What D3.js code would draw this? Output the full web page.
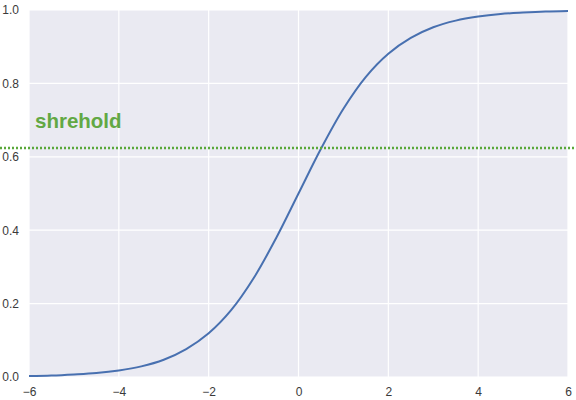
<!DOCTYPE html>
<html>
<head>
<meta charset="utf-8">
<script src="https://cdn.jsdelivr.net/npm/d3@7"></script>
<style>
  body { margin: 0; background: #fff; }
  svg { display: block; font-family: "Liberation Sans", Arial, sans-serif; }
</style>
</head>
<body>
<svg width="576" height="400"></svg>
<script>
"use strict";

// values
const xValues = [-6, -5.5, -5, -4.5, -4, -3.5, -3, -2.5, -2, -1.5, -1, -0.5, 0,
                 0.5, 1, 1.5, 2, 2.5, 3, 3.5, 4, 4.5, 5, 5.5, 6];
const yValues = [0.0025, 0.004, 0.007, 0.011, 0.018, 0.029, 0.047, 0.076, 0.119, 0.182, 0.269, 0.378, 0.5,
                 0.622, 0.731, 0.818, 0.881, 0.924, 0.953, 0.971, 0.982, 0.989, 0.993, 0.996, 0.9975];
const xTicks = [-6, -4, -2, 0, 2, 4, 6];
const yTicks = [0, 0.2, 0.4, 0.6, 0.8, 1.0];
const threshold = 0.624;
const thresholdLabel = "shrehold";

const plotLeft = 29, plotRight = 568, plotTop = 10, plotBottom = 377;

const svg = d3.select("svg");
const xScale = d3.scaleLinear().domain([-6, 6]).range([plotLeft, plotRight]);
const yScale = d3.scaleLinear().domain([0, 1]).range([plotBottom, plotTop]);

svg.append("rect")
    .attr("x", plotLeft).attr("y", plotTop)
    .attr("width", plotRight - plotLeft).attr("height", plotBottom - plotTop)
    .attr("fill", "#eaeaf2");

// grid
svg.append("g").selectAll("line")
    .data(xTicks)
    .join("line")
    .attr("x1", d => xScale(d)).attr("x2", d => xScale(d))
    .attr("y1", plotTop).attr("y2", plotBottom)
    .attr("stroke", "#fff").attr("stroke-width", 1.2);
svg.append("g").selectAll("line")
    .data(yTicks)
    .join("line")
    .attr("y1", d => yScale(d)).attr("y2", d => yScale(d))
    .attr("x1", plotLeft).attr("x2", plotRight)
    .attr("stroke", "#fff").attr("stroke-width", 1.2);

// axes (labels only)
const xAxis = svg.append("g")
    .attr("transform", `translate(0,${plotBottom})`)
    .call(d3.axisBottom(xScale).tickValues(xTicks).tickSize(0).tickPadding(10)
        .tickFormat(d => d < 0 ? "\u2212" + Math.abs(d) : d));
const yAxis = svg.append("g")
    .attr("transform", `translate(${plotLeft},0)`)
    .call(d3.axisLeft(yScale).tickValues(yTicks).tickSize(0).tickPadding(10)
        .tickFormat(d3.format(".1f")));
[xAxis, yAxis].forEach(a => {
    a.select(".domain").remove();
    a.selectAll("text")
        .attr("fill", "#3a3a3a")
        .style("font-size", "12px")
        .style("font-family", "'Liberation Sans', Arial, sans-serif");
});

// sigmoid curve
const line = d3.line()
    .x((d, i) => xScale(xValues[i]))
    .y(d => yScale(d))
    .curve(d3.curveCatmullRom);
svg.append("path")
    .attr("d", line(yValues))
    .attr("fill", "none")
    .attr("stroke", "#4870b0")
    .attr("stroke-width", 2);

// threshold line across the whole figure
svg.append("line")
    .attr("x1", 0).attr("x2", 576)
    .attr("y1", yScale(threshold)).attr("y2", yScale(threshold))
    .attr("stroke", "#5aa83a")
    .attr("stroke-width", 2.4)
    .attr("stroke-dasharray", "2,2");

svg.append("text")
    .attr("x", 35)
    .attr("y", yScale(threshold) - 20)
    .attr("fill", "#62a844")
    .style("font-size", "20.5px")
    .style("font-weight", "bold")
    .text(thresholdLabel);
</script>
</body>
</html>
